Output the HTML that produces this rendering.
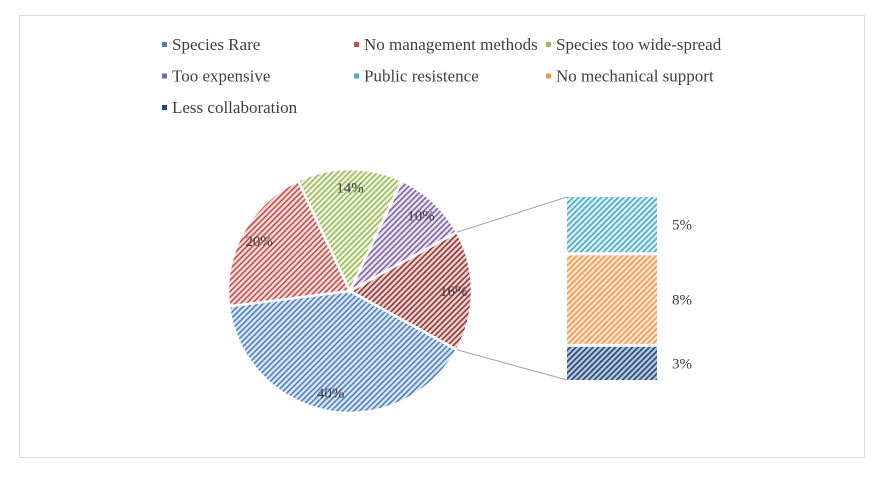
<!DOCTYPE html>
<html><head><meta charset="utf-8"><style>
body{margin:0;background:#fff;}
svg text{font-family:"Liberation Serif",serif;fill:#404040;}
</style></head><body>
<svg id="chart" width="881" height="481">
<defs>
<pattern id="h0" width="4" height="4" patternUnits="userSpaceOnUse" patternTransform="rotate(45)"><rect width="4" height="4" fill="#dbe5f3"/><rect width="1.6" height="4" fill="#4f81bd"/></pattern>
<pattern id="h1" width="4" height="4" patternUnits="userSpaceOnUse" patternTransform="rotate(45)"><rect width="4" height="4" fill="#f4dcdb"/><rect width="1.6" height="4" fill="#c0504d"/></pattern>
<pattern id="h2" width="4" height="4" patternUnits="userSpaceOnUse" patternTransform="rotate(45)"><rect width="4" height="4" fill="#eef4e2"/><rect width="1.6" height="4" fill="#9bbb59"/></pattern>
<pattern id="h3" width="4" height="4" patternUnits="userSpaceOnUse" patternTransform="rotate(45)"><rect width="4" height="4" fill="#e8e2f0"/><rect width="1.6" height="4" fill="#8064a2"/></pattern>
<pattern id="h4" width="4" height="4" patternUnits="userSpaceOnUse" patternTransform="rotate(45)"><rect width="4" height="4" fill="#f0d0cf"/><rect width="1.6" height="4" fill="#8c3a38"/></pattern>
<pattern id="b0" width="4" height="4" patternUnits="userSpaceOnUse" patternTransform="rotate(45)"><rect width="4" height="4" fill="#daeef4"/><rect width="1.6" height="4" fill="#4bacc6"/></pattern>
<pattern id="b1" width="4" height="4" patternUnits="userSpaceOnUse" patternTransform="rotate(45)"><rect width="4" height="4" fill="#fde6d3"/><rect width="1.6" height="4" fill="#f79646"/></pattern>
<pattern id="b2" width="4" height="4" patternUnits="userSpaceOnUse" patternTransform="rotate(45)"><rect width="4" height="4" fill="#b8c4d6"/><rect width="1.6" height="4" fill="#1f497d"/></pattern>
</defs>
<rect x="19.5" y="15.5" width="845" height="442" fill="#fff" stroke="#d9d9d9"/>
<g id="legend"></g><g id="pie"></g><g id="bar"></g>
</svg>
<script>
const pieLabels=["Species Rare","No management methods","Species too wide-spread","Too expensive"];
const pieValues=[40,20,14,10];
const barLabels=["Public resistence","No mechanical support","Less collaboration"];
const barValues=[5,8,3];
const legendLabels=["Species Rare","No management methods","Species too wide-spread","Too expensive","Public resistence","No mechanical support","Less collaboration"];
const legendColors=["#4f81bd","#c0504d","#9bbb59","#8064a2","#4bacc6","#f79646","#1f497d"];
const NS="http://www.w3.org/2000/svg";
function mk(t,a,p){const e=document.createElementNS(NS,t);for(const k in a)e.setAttribute(k,a[k]);p.appendChild(e);return e;}
const lg=document.getElementById('legend');
legendLabels.forEach((l,i)=>{const x=162+(i%3)*192,y=47+Math.floor(i/3)*31.5;
const s=mk('rect',{x:x,y:y-5,width:5,height:5,fill:legendColors[i]},lg);


const t=mk('text',{x:x+10,y:y+3,'font-size':17},lg);t.textContent=l;

});
const cx=350,cy=291,R=122;
const other=barValues.reduce((a,b)=>a+b,0);
const vals=pieValues.concat([other]);
const total=vals.reduce((a,b)=>a+b,0);
const pg=document.getElementById('pie');
const otherFrac=other/total;
let ang=Math.PI/2+otherFrac*Math.PI;
function pt(a,r){return[cx+r*Math.sin(a),cy-r*Math.cos(a)];}
let otherStart,otherEnd;
vals.forEach((v,i)=>{const a0=ang,a1=ang+v/total*2*Math.PI;ang=a1;
const p0=pt(a0,R),p1=pt(a1,R),large=(a1-a0)>Math.PI?1:0;
const p=mk('path',{d:`M${cx},${cy}L${p0[0]},${p0[1]}A${R},${R} 0 ${large} 1 ${p1[0]},${p1[1]}Z`,fill:`url(#h${i})`,stroke:'#fff','stroke-width':2.5},pg);


const m=(a0+a1)/2,lp=pt(m,R*0.85);
const t=mk('text',{x:lp[0],y:lp[1]+5,'text-anchor':'middle','font-size':15},pg);t.textContent=v+'%';


if(i===vals.length-1){otherStart=a0;otherEnd=a1;}});
const bg=document.getElementById('bar');
const bx=567,bw=90,barTop=197,barBot=380,gap=3;
const avail=barBot-barTop-gap*(barValues.length-1);
let by=barTop;
const pa=pt(otherStart,R),pb=pt(otherEnd,R);
barValues.forEach((v,i)=>{const h=v/other*avail;
const r=mk('rect',{x:bx,y:by,width:bw,height:h,fill:`url(#b${i})`},bg);


const t=mk('text',{x:672,y:by+h/2+5,'font-size':15},bg);t.textContent=v+'%';


by+=h+gap;});
const l1=mk('line',{x1:pa[0],y1:pa[1],x2:bx,y2:barTop,stroke:'#a6a6a6'},bg);


const l2=mk('line',{x1:pb[0],y1:pb[1],x2:bx,y2:barBot,stroke:'#a6a6a6'},bg);


</script>
</body></html>
